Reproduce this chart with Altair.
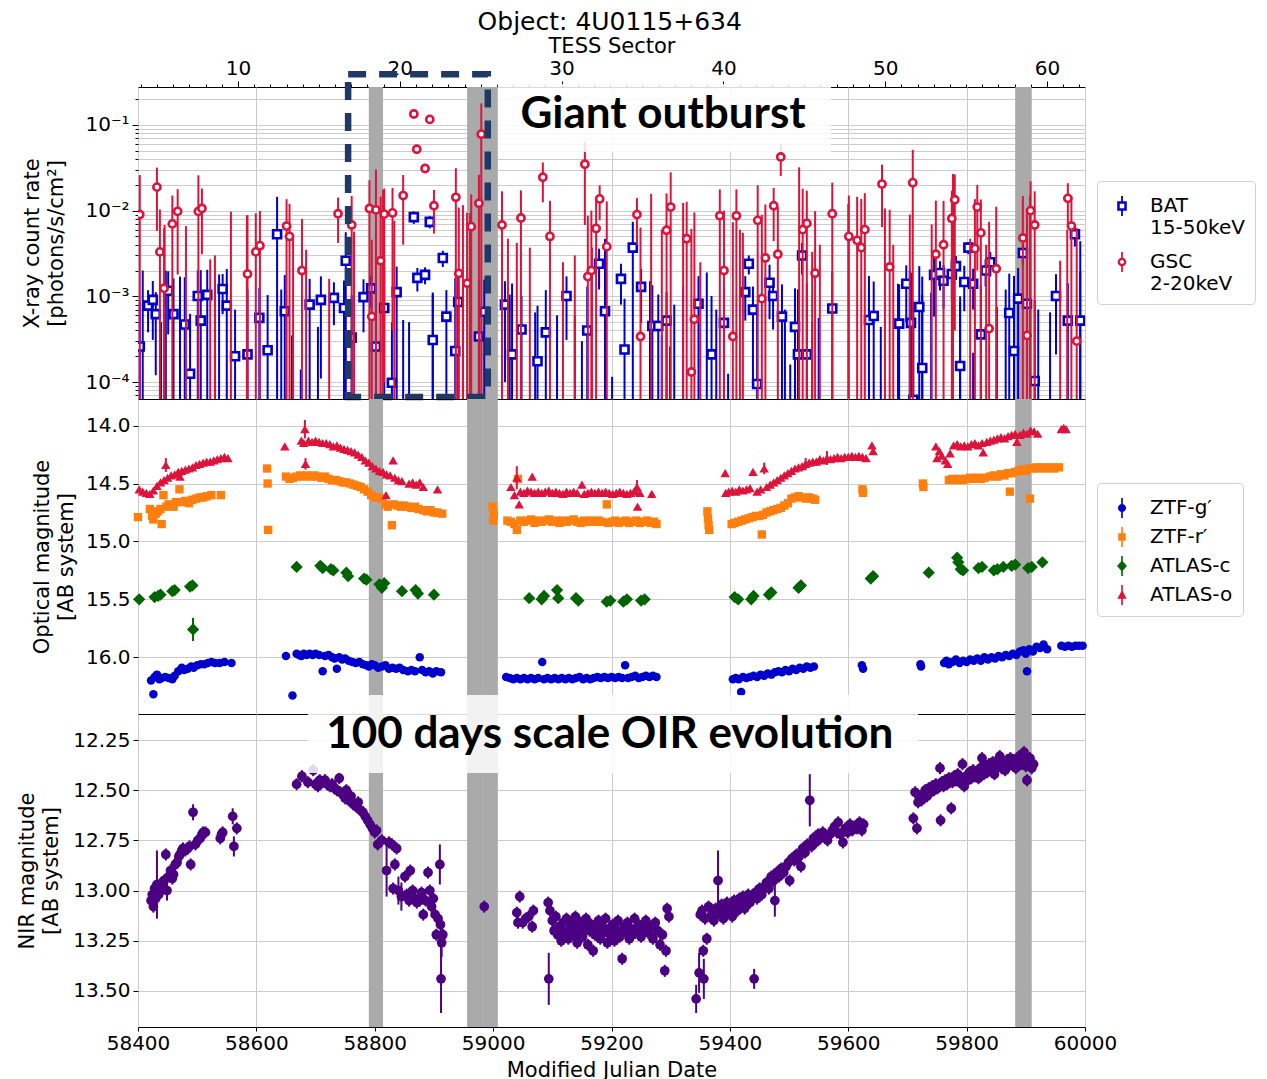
import altair as alt
import pandas as pd

# ---------------- data ----------------
X_DOMAIN = [58400, 60000]
mjd_ticks = [58400, 58600, 58800, 59000, 59200, 59400, 59600, 59800, 60000]

tess_sector = [18, 24, 25, 58]
tess_start = [58790, 58956, 58983, 59882]
tess_end = [58814, 58983, 59008, 59910]
sector_domain = [3.82, 62.35]
sector_ticks = list(range(4, 63))

# Swift/BAT 15-50 keV: (MJD, rate, 1-sigma error)
bat = [
    (58403, 0.00026, 0.0006), (58417, 0.00078, 0.0004), (58425, 0.00091, 0.0006), (58430, 0.00062, 0.0005),
    (58451, 0.00116, 0.0008), (58460, 0.00062, 0.0010), (58479, 0.00047, 0.0012), (58488, 0.000125, 0.0005),
    (58501, 0.00101, 0.0010), (58506, 0.00052, 0.0015), (58517, 0.00104, 0.0010), (58543, 0.00122, 0.0006),
    (58550, 0.00078, 0.0013), (58564, 0.00020, 0.0005), (58585, 0.00021, 0.0010), (58605, 0.00056, 0.0007),
    (58619, 0.000235, 0.0008), (58635, 0.0053, 0.0092), (58648, 0.00067, 0.0011), (58690, 0.00080, 0.0008),
    (58709, 0.00091, 0.0008), (58731, 0.00096, 0.0005), (58748, 0.00073, 0.0008), (58751, 0.0026, 0.0030),
    (58761, 0.00033, 0.0007), (58781, 0.00098, 0.0006), (58794, 0.00124, 0.0005), (58802, 0.00026, 0.0008),
    (58816, 0.00073, 0.0015), (58829, 0.000098, 0.0004), (58837, 0.00112, 0.0011), (58866, 0.0084, 0.0014),
    (58872, 0.00164, 0.0005), (58885, 0.00178, 0.0004), (58893, 0.0074, 0.0012), (58898, 0.00031, 0.0008),
    (58915, 0.0028, 0.0006), (58921, 0.00058, 0.0006), (58936, 0.00023, 0.0014), (58941, 0.00086, 0.0010),
    (58976, 0.00034, 0.0012), (58985, 0.00066, 0.0009), (59020, 0.00080, 0.0007), (59032, 0.00021, 0.0012),
    (59048, 0.00041, 0.0006), (59075, 0.000175, 0.0006), (59089, 0.00038, 0.0008), (59124, 0.00101, 0.0007),
    (59159, 0.00040, 0.0009), (59179, 0.0024, 0.0012), (59189, 0.00067, 0.0040), (59216, 0.00160, 0.0008),
    (59222, 0.00024, 0.0007), (59236, 0.0037, 0.0037), (59250, 0.00129, 0.0008), (59269, 0.00045, 0.0009),
    (59279, 0.00045, 0.0006), (59293, 0.00052, 0.0006), (59347, 0.00082, 0.0009), (59369, 0.00021, 0.0008),
    (59390, 0.00049, 0.0008), (59426, 0.00112, 0.0006), (59432, 0.0024, 0.0006), (59439, 0.00070, 0.0006),
    (59446, 0.000095, 0.0007), (59467, 0.00144, 0.0009), (59473, 0.00101, 0.0006), (59488, 0.00058, 0.0008),
    (59510, 0.00044, 0.0008), (59515, 0.00021, 0.0010), (59522, 0.0030, 0.0012), (59530, 0.00021, 0.0012),
    (59573, 0.00072, 0.0012), (59635, 0.00053, 0.0012), (59643, 0.00059, 0.0009), (59686, 0.00048, 0.0009),
    (59698, 0.00140, 0.0009), (59706, 0.00049, 0.0014), (59710, 0.000062, 0.0008), (59720, 0.00075, 0.0015),
    (59725, 0.000146, 0.0009), (59745, 0.00178, 0.0012), (59755, 0.00187, 0.0007), (59761, 0.00152, 0.0008),
    (59775, 0.00182, 0.0009), (59782, 0.00225, 0.0007), (59789, 0.000154, 0.0007), (59796, 0.00147, 0.0008),
    (59803, 0.0037, 0.0006), (59811, 0.00140, 0.0007), (59824, 0.00036, 0.0010), (59832, 0.0020, 0.0007),
    (59840, 0.0025, 0.0008), (59872, 0.00064, 0.0012), (59880, 0.00023, 0.0015), (59887, 0.00094, 0.0012),
    (59895, 0.0032, 0.0009), (59902, 0.00082, 0.0010), (59915, 0.000103, 0.0008), (59951, 0.00101, 0.0008),
    (59971, 0.00052, 0.0009), (59983, 0.0053, 0.0015), (59992, 0.00052, 0.0014),
]

# MAXI/GSC 2-20 keV: (MJD, rate, 1-sigma error)
gsc = [
    (58403, 0.0090, 0.017), (58432, 0.0188, 0.013), (58437, 0.0033, 0.007), (58444, 0.00124, 0.005),
    (58458, 0.0070, 0.008), (58467, 0.0098, 0.008), (58502, 0.0098, 0.016), (58508, 0.0106, 0.0075),
    (58585, 0.00182, 0.007), (58599, 0.0033, 0.006), (58606, 0.0039, 0.006), (58651, 0.0066, 0.007),
    (58656, 0.0050, 0.007), (58677, 0.0020, 0.006), (58738, 0.0092, 0.005), (58761, 0.0068, 0.008),
    (58791, 0.0106, 0.012), (58795, 0.00058, 0.004), (58802, 0.0102, 0.020), (58810, 0.0026, 0.012),
    (58816, 0.0091, 0.009), (58830, 0.0094, 0.009), (58848, 0.0150, 0.011), (58866, 0.134, 0.004),
    (58871, 0.052, 0.003), (58885, 0.031, 0.003), (58893, 0.116, 0.004), (58900, 0.0114, 0.006),
    (58937, 0.0143, 0.017), (58942, 0.00185, 0.009), (58956, 0.00142, 0.008), (58963, 0.0065, 0.009),
    (58976, 0.0122, 0.014), (58980, 0.078, 0.10), (59015, 0.0068, 0.010), (59047, 0.0082, 0.009),
    (59084, 0.0245, 0.012), (59096, 0.0050, 0.008), (59155, 0.0348, 0.028), (59160, 0.00170, 0.007),
    (59166, 0.0020, 0.008), (59174, 0.0062, 0.007), (59180, 0.0137, 0.006), (59192, 0.0038, 0.009),
    (59243, 0.0090, 0.005), (59249, 0.00034, 0.006), (59293, 0.0059, 0.010), (59300, 0.0110, 0.017),
    (59327, 0.0047, 0.008), (59335, 0.000131, 0.006), (59340, 0.00054, 0.009), (59383, 0.0087, 0.009),
    (59390, 0.0020, 0.008), (59405, 0.00034, 0.007), (59411, 0.0087, 0.009), (59447, 0.0077, 0.012),
    (59454, 0.00094, 0.008), (59460, 0.0028, 0.009), (59474, 0.0114, 0.007), (59481, 0.0031, 0.008),
    (59486, 0.0423, 0.017), (59523, 0.0060, 0.012), (59530, 0.0071, 0.010), (59544, 0.00186, 0.008),
    (59573, 0.0092, 0.012), (59601, 0.0050, 0.010), (59615, 0.0045, 0.010), (59622, 0.0037, 0.010),
    (59628, 0.0060, 0.010), (59657, 0.0204, 0.014), (59670, 0.0022, 0.008), (59709, 0.0212, 0.030),
    (59748, 0.0031, 0.010), (59761, 0.0040, 0.009), (59775, 0.0081, 0.009), (59780, 0.0134, 0.013),
    (59814, 0.0036, 0.010), (59818, 0.0110, 0.009), (59824, 0.0055, 0.008), (59838, 0.00042, 0.007),
    (59850, 0.0021, 0.009), (59895, 0.0048, 0.010), (59902, 0.00035, 0.009), (59908, 0.0100, 0.012),
    (59915, 0.0068, 0.010), (59971, 0.0139, 0.007), (59977, 0.0066, 0.008), (59986, 0.00030, 0.006),
]

# non-positive rates: only the upper end of the error bar is visible (MJD, rate + error)
bat_bars = [
    (58408, 0.0020), (58439, 0.0005), (58447, 0.0020), (58471, 0.0017), (58530, 0.0016), (58537, 0.0018),
    (58642, 0.0012), (58660, 0.00035), (58675, 0.00014), (58704, 0.00044), (58848, 0.00053), (58858, 0.0005),
    (58898, 0.00104), (58949, 0.0013), (59028, 0.00105), (59071, 0.00065), (59108, 0.0006), (59138, 0.0006),
    (59150, 0.0003), (59201, 0.000115), (59265, 0.0015), (59285, 0.00035), (59299, 0.00026), (59306, 0.0008),
    (59321, 0.0013), (59361, 0.0019), (59377, 0.0007), (59397, 0.000125), (59493, 0.0007), (59502, 0.00016),
    (59539, 0.0005), (59550, 0.00056), (59635, 0.0012), (59655, 0.00044), (59684, 0.0014), (59704, 0.0020),
    (59725, 0.0017), (59740, 0.0011), (59789, 0.0010), (59811, 0.00022), (59851, 0.00075), (59866, 0.0012),
    (59921, 0.0007), (59941, 0.00065), (59992, 0.0044),
]
gsc_bars = [
    (58445, 0.0068), (58481, 0.0066), (58522, 0.0027), (58530, 0.0030), (58557, 0.0097), (58584, 0.0088),
    (58662, 0.0047), (58684, 0.0035), (58723, 0.0016), (58765, 0.0057), (58814, 0.0175), (58833, 0.0076),
    (58949, 0.0116), (58961, 0.0094), (59025, 0.0047), (59040, 0.0042), (59062, 0.0037), (59118, 0.0025),
    (59138, 0.0030), (59167, 0.0037), (59267, 0.0157), (59285, 0.0060), (59321, 0.0123), (59350, 0.0025),
    (59417, 0.0060), (59422, 0.0055), (59517, 0.032), (59539, 0.0033), (59552, 0.0040), (59600, 0.012),
    (59662, 0.0106), (59676, 0.0040), (59704, 0.0090), (59741, 0.0069), (59777, 0.0268), (59806, 0.0047),
    (59833, 0.0040), (59907, 0.015), (59958, 0.0026), (59970, 0.0060),
]

# optical light curves (MJD, AB mag)
ztf_g = [
    (58422, 16.20), (58426, 16.32), (58428, 16.17), (58432, 16.15), (58436, 16.19), (58440, 16.18), (58446, 16.17),
    (58452, 16.18), (58458, 16.19), (58462, 16.16), (58468, 16.12), (58474, 16.09), (58478, 16.11), (58484, 16.10),
    (58490, 16.08), (58494, 16.09), (58500, 16.07), (58506, 16.06), (58512, 16.06), (58518, 16.05), (58524, 16.04),
    (58530, 16.05), (58538, 16.05), (58546, 16.04), (58558, 16.05),
    (58650, 15.99), (58661, 16.33), (58668, 15.97), (58672, 15.98), (58676, 15.99), (58680, 15.97), (58685, 15.98),
    (58690, 15.97), (58695, 15.98), (58700, 15.97), (58706, 15.98), (58712, 16.12), (58716, 15.99), (58722, 15.98),
    (58728, 16.00), (58732, 16.01), (58736, 16.10), (58740, 16.00), (58745, 16.02), (58750, 16.01), (58756, 16.03),
    (58762, 16.04), (58768, 16.05), (58774, 16.04), (58780, 16.06), (58786, 16.07), (58790, 16.08), (58795, 16.06),
    (58800, 16.07), (58806, 16.09), (58812, 16.08), (58818, 16.07), (58824, 16.10), (58830, 16.09), (58836, 16.10),
    (58842, 16.09), (58848, 16.11), (58856, 16.12), (58862, 16.11), (58868, 16.12), (58876, 16.00), (58880, 16.11),
    (58886, 16.13), (58892, 16.12), (58898, 16.14), (58904, 16.12), (58912, 16.13),
    (59022, 16.17), (59028, 16.18), (59034, 16.19), (59040, 16.18), (59046, 16.19), (59052, 16.18), (59058, 16.19),
    (59064, 16.18), (59070, 16.19), (59076, 16.18), (59083, 16.04), (59086, 16.19), (59092, 16.18), (59098, 16.19),
    (59104, 16.18), (59110, 16.19), (59116, 16.18), (59122, 16.19), (59128, 16.18), (59134, 16.19), (59140, 16.18),
    (59146, 16.17), (59152, 16.19), (59158, 16.18), (59164, 16.19), (59170, 16.18), (59176, 16.17), (59182, 16.18),
    (59188, 16.17), (59194, 16.18), (59200, 16.17), (59206, 16.18), (59212, 16.17), (59218, 16.18), (59223, 16.07),
    (59228, 16.18), (59234, 16.17), (59240, 16.16), (59246, 16.18), (59252, 16.17), (59258, 16.16), (59264, 16.17),
    (59270, 16.16), (59276, 16.17),
    (59405, 16.19), (59410, 16.18), (59415, 16.19), (59419, 16.30), (59422, 16.17), (59428, 16.18), (59434, 16.17),
    (59440, 16.16), (59446, 16.17), (59452, 16.15), (59458, 16.16), (59464, 16.14), (59470, 16.15), (59476, 16.13),
    (59482, 16.12), (59488, 16.13), (59494, 16.11), (59500, 16.12), (59506, 16.10), (59512, 16.11), (59518, 16.09),
    (59524, 16.10), (59530, 16.08), (59536, 16.09), (59542, 16.08),
    (59623, 16.07), (59625, 16.10), (59722, 16.06), (59723, 16.08),
    (59762, 16.05), (59766, 16.03), (59770, 16.06), (59776, 16.04), (59782, 16.02), (59788, 16.05), (59794, 16.03),
    (59800, 16.04), (59806, 16.02), (59812, 16.03), (59818, 16.01), (59824, 16.03), (59830, 16.00), (59836, 16.02),
    (59842, 16.00), (59848, 16.01), (59854, 15.99), (59860, 16.00), (59866, 15.98), (59872, 15.99), (59878, 15.97),
    (59884, 15.98), (59890, 15.95), (59896, 15.94), (59900, 15.97), (59902, 16.12), (59906, 15.93), (59912, 15.95),
    (59918, 15.91), (59924, 15.92), (59930, 15.89), (59936, 15.93), (59960, 15.90), (59966, 15.91), (59972, 15.90),
    (59978, 15.91), (59984, 15.90), (59990, 15.90), (59996, 15.90),
]
ztf_r = [
    (58400, 14.79), (58420, 14.72), (58424, 14.78), (58426, 14.81), (58430, 14.76), (58434, 14.74), (58438, 14.72),
    (58440, 14.85), (58443, 14.60), (58448, 14.70), (58452, 14.68), (58456, 14.69), (58460, 14.70), (58464, 14.66),
    (58470, 14.55), (58474, 14.66), (58480, 14.65), (58486, 14.67), (58492, 14.64), (58498, 14.63), (58504, 14.62),
    (58510, 14.62), (58516, 14.61), (58524, 14.60), (58540, 14.60),
    (58618, 14.37), (58619, 14.50), (58620, 14.90), (58650, 14.44), (58656, 14.46), (58662, 14.45), (58668, 14.44),
    (58674, 14.43), (58680, 14.44), (58686, 14.43), (58692, 14.44), (58698, 14.43), (58704, 14.44), (58710, 14.45),
    (58716, 14.44), (58722, 14.46), (58728, 14.47), (58734, 14.47), (58740, 14.48), (58746, 14.49), (58752, 14.49),
    (58758, 14.50), (58764, 14.51), (58770, 14.52), (58776, 14.53), (58782, 14.55), (58788, 14.57), (58794, 14.60),
    (58800, 14.62), (58806, 14.62), (58812, 14.63), (58818, 14.68), (58822, 14.70), (58829, 14.86), (58832, 14.68),
    (58838, 14.69), (58844, 14.70), (58850, 14.69), (58856, 14.70), (58862, 14.71), (58868, 14.70), (58874, 14.72),
    (58882, 14.73), (58888, 14.74), (58894, 14.73), (58900, 14.75), (58906, 14.75), (58914, 14.76),
    (58999, 14.70), (59000, 14.82), (59001, 14.77), (59024, 14.82), (59030, 14.83), (59036, 14.85), (59040, 14.90),
    (59042, 14.46), (59046, 14.82), (59052, 14.83), (59058, 14.82), (59064, 14.81), (59070, 14.84), (59076, 14.82),
    (59082, 14.83), (59088, 14.82), (59094, 14.81), (59100, 14.83), (59106, 14.82), (59112, 14.84), (59118, 14.82),
    (59124, 14.83), (59130, 14.82), (59136, 14.81), (59142, 14.83), (59148, 14.84), (59154, 14.82), (59160, 14.83),
    (59166, 14.82), (59172, 14.83), (59178, 14.82), (59184, 14.83), (59192, 14.68), (59194, 14.84), (59200, 14.83),
    (59206, 14.82), (59212, 14.84), (59218, 14.83), (59224, 14.82), (59230, 14.84), (59236, 14.83), (59242, 14.82),
    (59248, 14.84), (59254, 14.83), (59260, 14.82), (59266, 14.84), (59272, 14.83), (59276, 14.85),
    (59362, 14.74), (59363, 14.80), (59364, 14.86), (59365, 14.90),
    (59403, 14.85), (59408, 14.84), (59414, 14.83), (59420, 14.82), (59426, 14.81), (59432, 14.80), (59438, 14.79),
    (59444, 14.78), (59450, 14.78), (59454, 14.94), (59456, 14.77), (59462, 14.75), (59468, 14.74), (59474, 14.73),
    (59480, 14.72), (59486, 14.71), (59492, 14.69), (59498, 14.67), (59504, 14.63), (59510, 14.62), (59516, 14.61),
    (59522, 14.62), (59528, 14.63), (59534, 14.62), (59540, 14.63), (59544, 14.64),
    (59624, 14.55), (59625, 14.58), (59726, 14.50), (59727, 14.53),
    (59770, 14.47), (59776, 14.46), (59782, 14.47), (59788, 14.46), (59794, 14.47), (59800, 14.46), (59806, 14.45),
    (59812, 14.46), (59818, 14.45), (59824, 14.46), (59830, 14.45), (59840, 14.44), (59846, 14.43), (59852, 14.44),
    (59858, 14.42), (59864, 14.43), (59870, 14.41), (59873, 14.57), (59876, 14.41), (59882, 14.40), (59888, 14.39),
    (59894, 14.38), (59900, 14.39), (59906, 14.37), (59907, 14.63), (59912, 14.37), (59918, 14.36), (59924, 14.37),
    (59930, 14.36), (59936, 14.37), (59942, 14.36), (59948, 14.37), (59956, 14.36),
]
atlas_c = [
    (58402, 15.50), (58428, 15.48), (58434, 15.47), (58438, 15.46), (58458, 15.43), (58462, 15.42), (58488, 15.39),
    (58492, 15.38), (58493, 15.76), (58668, 15.22), (58708, 15.21), (58712, 15.23), (58726, 15.24), (58730, 15.25),
    (58752, 15.27), (58755, 15.30), (58782, 15.32), (58786, 15.33), (58808, 15.37), (58812, 15.40), (58816, 15.36),
    (58846, 15.43), (58869, 15.42), (58873, 15.45), (58900, 15.46), (59061, 15.49), (59082, 15.50), (59086, 15.47),
    (59108, 15.42), (59110, 15.49), (59140, 15.49), (59144, 15.51), (59192, 15.52), (59198, 15.51), (59220, 15.52),
    (59226, 15.50), (59250, 15.51), (59256, 15.50), (59408, 15.48), (59414, 15.50), (59436, 15.50), (59440, 15.47),
    (59466, 15.46), (59470, 15.44), (59516, 15.40), (59520, 15.38), (59638, 15.32), (59642, 15.30), (59736, 15.27),
    (59784, 15.14), (59786, 15.18), (59790, 15.24), (59794, 15.25), (59820, 15.23), (59826, 15.22), (59846, 15.25),
    (59852, 15.24), (59862, 15.22), (59876, 15.21), (59882, 15.20), (59904, 15.23), (59910, 15.22), (59928, 15.18),
]
atlas_o = [
    (58402, 14.55), (58408, 14.57), (58414, 14.58), (58420, 14.59), (58426, 14.56), (58432, 14.52), (58438, 14.49),
    (58444, 14.47), (58447, 14.34), (58450, 14.45), (58456, 14.43), (58462, 14.42), (58468, 14.40), (58471, 14.44),
    (58474, 14.39), (58480, 14.38), (58486, 14.37), (58492, 14.36), (58498, 14.34), (58504, 14.33), (58510, 14.32),
    (58516, 14.31), (58522, 14.31), (58528, 14.30), (58534, 14.29), (58540, 14.28), (58546, 14.27), (58552, 14.28),
    (58648, 14.18), (58676, 14.13), (58680, 14.15), (58682, 14.03), (58683, 14.33), (58688, 14.13), (58694, 14.14),
    (58700, 14.13), (58706, 14.14), (58712, 14.15), (58718, 14.15), (58724, 14.16), (58730, 14.18), (58736, 14.17),
    (58742, 14.19), (58748, 14.20), (58754, 14.21), (58760, 14.22), (58766, 14.23), (58772, 14.25), (58778, 14.27),
    (58784, 14.30), (58790, 14.32), (58796, 14.35), (58802, 14.37), (58808, 14.39), (58814, 14.40), (58819, 14.60),
    (58820, 14.42), (58826, 14.43), (58831, 14.30), (58834, 14.45), (58840, 14.47), (58846, 14.48), (58858, 14.50),
    (58864, 14.49), (58870, 14.51), (58876, 14.49), (58882, 14.53), (58906, 14.55),
    (59030, 14.53), (59036, 14.60), (59040, 14.45), (59044, 14.68), (59046, 14.57), (59052, 14.58), (59058, 14.56),
    (59064, 14.57), (59066, 14.44), (59070, 14.58), (59076, 14.57), (59082, 14.58), (59088, 14.57), (59094, 14.56),
    (59100, 14.58), (59106, 14.57), (59112, 14.58), (59118, 14.59), (59124, 14.57), (59130, 14.58), (59136, 14.57),
    (59142, 14.58), (59150, 14.51), (59154, 14.59), (59160, 14.58), (59166, 14.57), (59172, 14.58), (59178, 14.57),
    (59184, 14.58), (59190, 14.57), (59196, 14.58), (59202, 14.59), (59208, 14.58), (59214, 14.57), (59220, 14.58),
    (59226, 14.59), (59232, 14.58), (59238, 14.57), (59243, 14.53), (59244, 14.70), (59248, 14.58), (59268, 14.59),
    (59392, 14.41), (59393, 14.58), (59398, 14.57), (59404, 14.56), (59410, 14.57), (59416, 14.55), (59422, 14.56),
    (59428, 14.55), (59434, 14.54), (59439, 14.40), (59446, 14.57), (59452, 14.55), (59458, 14.37), (59462, 14.53),
    (59468, 14.51), (59474, 14.49), (59480, 14.47), (59486, 14.45), (59492, 14.43), (59498, 14.41), (59504, 14.39),
    (59510, 14.37), (59516, 14.36), (59522, 14.35), (59528, 14.33), (59534, 14.32), (59540, 14.31), (59546, 14.31),
    (59552, 14.29), (59558, 14.30), (59564, 14.28), (59570, 14.29), (59576, 14.28), (59582, 14.27), (59588, 14.28),
    (59594, 14.27), (59600, 14.27), (59606, 14.26), (59612, 14.27), (59618, 14.26), (59624, 14.27), (59630, 14.28),
    (59640, 14.17), (59642, 14.22),
    (59748, 14.18), (59750, 14.28), (59754, 14.22), (59758, 14.26), (59764, 14.30), (59768, 14.33), (59772, 14.24),
    (59778, 14.17), (59784, 14.16), (59790, 14.18), (59796, 14.17), (59802, 14.18), (59808, 14.16), (59814, 14.15),
    (59820, 14.17), (59826, 14.15), (59828, 14.23), (59834, 14.14), (59840, 14.13), (59846, 14.12), (59852, 14.11),
    (59858, 14.10), (59864, 14.11), (59870, 14.09), (59876, 14.08), (59882, 14.07), (59885, 14.14), (59890, 14.08),
    (59896, 14.06), (59902, 14.07), (59908, 14.04), (59914, 14.05), (59920, 14.07), (59960, 14.03), (59964, 14.02),
    (59968, 14.03),
]
# visible optical error bars: (series, MJD, mag, error)
optical_err = [
    ("ATLAS-o", 58447, 14.34, 0.06), ("ATLAS-o", 58682, 14.03, 0.08), ("ATLAS-o", 58683, 14.33, 0.05),
    ("ATLAS-o", 59040, 14.45, 0.10), ("ATLAS-o", 59243, 14.53, 0.06), ("ATLAS-o", 59458, 14.37, 0.05),
    ("ATLAS-o", 59528, 14.33, 0.05), ("ATLAS-o", 59564, 14.28, 0.06), ("ATLAS-c", 58493, 15.76, 0.10),
]

# NIR light curve (MJD, AB mag)
nir = [
    (58422, 13.05), (58424, 13.02), (58426, 13.08), (58428, 12.99), (58430, 13.04), (58432, 12.97), (58435, 13.02),
    (58438, 13.00), (58441, 12.96), (58444, 12.95), (58447, 12.82), (58449, 13.00), (58452, 12.93), (58455, 12.90),
    (58458, 12.94), (58460, 12.92), (58463, 12.87), (58466, 12.86), (58469, 12.83), (58471, 12.82), (58474, 12.80),
    (58476, 12.79), (58480, 12.80), (58484, 12.79), (58487, 12.78), (58489, 12.87), (58493, 12.61), (58497, 12.77),
    (58501, 12.75), (58505, 12.74), (58508, 12.72), (58510, 12.71), (58514, 12.71), (58539, 12.74), (58541, 12.72),
    (58543, 12.71), (58560, 12.63), (58562, 12.78), (58567, 12.69),
    (58668, 12.47), (58677, 12.43), (58687, 12.46), (58696, 12.40), (58700, 12.47), (58704, 12.48), (58707, 12.45),
    (58712, 12.46), (58716, 12.45), (58720, 12.47), (58724, 12.48), (58728, 12.47), (58732, 12.49), (58736, 12.50),
    (58740, 12.44), (58742, 12.51), (58746, 12.52), (58750, 12.54), (58752, 12.50), (58756, 12.55), (58760, 12.53),
    (58764, 12.57), (58768, 12.58), (58772, 12.56), (58776, 12.60), (58780, 12.61), (58784, 12.63), (58788, 12.65),
    (58792, 12.67), (58796, 12.69), (58800, 12.71), (58803, 12.70), (58805, 12.77), (58812, 12.75), (58820, 12.90),
    (58824, 12.76), (58829, 12.77), (58831, 12.99), (58834, 12.87), (58837, 12.79), (58840, 13.00), (58845, 13.03),
    (58851, 12.93), (58854, 13.02), (58858, 13.05), (58860, 12.90), (58864, 13.00), (58868, 13.04), (58871, 13.06),
    (58876, 13.05), (58879, 13.01), (58882, 13.12), (58886, 13.05), (58890, 12.91), (58893, 13.00), (58896, 13.08),
    (58899, 13.04), (58902, 13.12), (58904, 13.22), (58907, 13.14), (58910, 12.87), (58911, 13.17), (58912, 13.44),
    (58913, 13.26), (58915, 13.22),
    (58985, 13.08),
    (59040, 13.11), (59042, 13.16), (59045, 13.03), (59050, 13.16), (59055, 13.14), (59060, 13.13), (59066, 13.18),
    (59068, 13.10), (59093, 13.06), (59094, 13.44), (59096, 13.10), (59100, 13.15), (59103, 13.20), (59106, 13.13),
    (59109, 13.22), (59112, 13.18), (59115, 13.25), (59118, 13.16), (59121, 13.21), (59124, 13.14), (59127, 13.24),
    (59130, 13.19), (59133, 13.17), (59136, 13.22), (59139, 13.13), (59142, 13.26), (59145, 13.19), (59148, 13.16),
    (59151, 13.23), (59154, 13.18), (59157, 13.14), (59160, 13.27), (59163, 13.20), (59166, 13.17), (59169, 13.30),
    (59172, 13.22), (59175, 13.19), (59178, 13.15), (59181, 13.24), (59184, 13.18), (59187, 13.21), (59190, 13.14),
    (59193, 13.26), (59196, 13.19), (59199, 13.22), (59202, 13.17), (59205, 13.25), (59208, 13.20), (59211, 13.15),
    (59214, 13.23), (59218, 13.34), (59221, 13.18), (59224, 13.21), (59227, 13.16), (59230, 13.24), (59233, 13.19),
    (59236, 13.22), (59239, 13.14), (59242, 13.20), (59246, 13.17), (59250, 13.23), (59254, 13.19), (59258, 13.15),
    (59262, 13.21), (59266, 13.18), (59270, 13.24), (59274, 13.16), (59278, 13.20), (59282, 13.27), (59286, 13.22),
    (59290, 13.40), (59292, 13.30), (59294, 13.09), (59297, 13.13),
    (59343, 13.54), (59348, 13.41), (59350, 13.12), (59353, 13.10), (59355, 13.30), (59356, 13.44), (59358, 13.14),
    (59361, 13.24), (59364, 13.08), (59367, 13.13), (59370, 13.10), (59373, 13.15), (59376, 13.09), (59380, 12.95),
    (59383, 13.12), (59386, 13.07), (59389, 13.14), (59392, 13.09), (59395, 13.06), (59398, 13.11), (59401, 13.07),
    (59404, 13.13), (59407, 13.05), (59410, 13.08), (59413, 13.10), (59416, 13.04), (59419, 13.07), (59422, 13.03),
    (59425, 13.09), (59428, 13.05), (59431, 13.02), (59434, 13.06), (59437, 13.04), (59441, 13.44), (59443, 13.01),
    (59446, 13.04), (59450, 12.99), (59454, 13.02), (59458, 12.98), (59462, 12.96), (59466, 12.99), (59470, 12.93),
    (59474, 12.95), (59476, 13.05), (59479, 12.91), (59483, 12.93), (59487, 12.89), (59491, 12.91), (59495, 12.88),
    (59499, 12.86), (59501, 12.95), (59505, 12.84), (59509, 12.85), (59513, 12.82), (59517, 12.83), (59520, 12.88),
    (59523, 12.79), (59527, 12.81), (59531, 12.77), (59535, 12.55), (59538, 12.78), (59541, 12.74), (59545, 12.76),
    (59549, 12.72), (59553, 12.74), (59557, 12.71), (59561, 12.73), (59565, 12.75), (59569, 12.72), (59573, 12.70),
    (59577, 12.68), (59581, 12.71), (59583, 12.66), (59587, 12.72), (59591, 12.76), (59595, 12.69), (59599, 12.71),
    (59603, 12.67), (59607, 12.70), (59611, 12.68), (59615, 12.69), (59619, 12.66), (59623, 12.70), (59626, 12.67),
    (59710, 12.64), (59713, 12.51), (59716, 12.69), (59718, 12.56), (59721, 12.53), (59724, 12.55), (59727, 12.52),
    (59730, 12.50), (59733, 12.53), (59736, 12.49), (59739, 12.51), (59742, 12.48), (59745, 12.50), (59748, 12.47),
    (59751, 12.49), (59755, 12.39), (59756, 12.65), (59758, 12.46), (59761, 12.48), (59764, 12.45), (59767, 12.47),
    (59770, 12.44), (59774, 12.59), (59776, 12.46), (59779, 12.43), (59782, 12.45), (59785, 12.42), (59788, 12.46),
    (59791, 12.44), (59793, 12.37), (59796, 12.48), (59799, 12.43), (59802, 12.45), (59805, 12.41), (59808, 12.44),
    (59811, 12.40), (59814, 12.43), (59817, 12.41), (59820, 12.44), (59823, 12.39), (59826, 12.34), (59829, 12.42),
    (59832, 12.38), (59835, 12.41), (59838, 12.37), (59841, 12.40), (59844, 12.36), (59847, 12.42), (59850, 12.38),
    (59853, 12.35), (59856, 12.33), (59859, 12.39), (59862, 12.36), (59865, 12.40), (59868, 12.35), (59871, 12.38),
    (59874, 12.34), (59877, 12.37), (59880, 12.35), (59883, 12.39), (59886, 12.36), (59889, 12.33), (59892, 12.37),
    (59895, 12.35), (59897, 12.31), (59900, 12.38), (59902, 12.45), (59904, 12.36), (59907, 12.34), (59910, 12.39),
    (59913, 12.37),
]
nir_err_default = 0.03
nir_err_large = [
    (58432, 0.17), (58449, 0.05), (58493, 0.04), (58560, 0.04), (58562, 0.05), (58820, 0.13), (58840, 0.07),
    (58845, 0.07), (58910, 0.10), (58912, 0.17), (58913, 0.07), (59094, 0.13), (59343, 0.07), (59348, 0.10),
    (59356, 0.10), (59380, 0.15), (59441, 0.05), (59476, 0.08), (59535, 0.13),
]

# annotations (data coordinates)
outburst_box = [(58755, 58991, 6.7e-5, 0.39)]
giant_label = [(59287, 0.13, "Giant outburst")]
giant_bg = [(59008, 59571, 0.0484, 0.30)]
oir_label = [(59197, 12.225, "100 days scale OIR evolution")]
oir_bg = [(58687, 59718, 12.025, 12.414)]

# ---------------- style ----------------
BLUE, RED, ORANGE, GREEN, INDIGO, NAVY = "#0000cd", "#dc143c", "#ff7f0e", "#006400", "#4b0082", "#203864"
W = 947
H1, H2, H3 = 312, 315, 313
Y_TOP = [6.34e-5, 0.277]
Y_MID = [13.77, 16.49]
Y_BOT = [12.12, 13.68]
FONT = "DejaVu Sans"

xscale = alt.Scale(domain=X_DOMAIN, nice=False, zero=False)
hidden_x_axis = alt.Axis(values=mjd_ticks, labels=False, ticks=False, domain=False, title=None, grid=True,
                         minExtent=0, maxExtent=0, labelPadding=0)
bottom_x_axis = alt.Axis(values=mjd_ticks, format="d", grid=True, title="Modified Julian Date",
                         labelFlush=False, labelOverlap=False, tickSize=4, labelPadding=2, titlePadding=6)


def X(field, axis):
    return alt.X(f"{field}:Q", scale=xscale, axis=axis)


# log axis for the X-ray panel
log_vals = [float(f"{k}e{p}") for p in range(-5, 0) for k in range(1, 10)]
log_vals = [v for v in log_vals if Y_TOP[0] <= v <= Y_TOP[1]]
sup = {-1: "10⁻¹", -2: "10⁻²", -3: "10⁻³", -4: "10⁻⁴"}
log_label_expr = " : ".join(
    f"abs(datum.value - {10.0 ** p!r}) < {10.0 ** p * 1e-6!r} ? '{s}'" for p, s in sup.items()
) + " : ''"
major_test = "abs(log(datum.value)/LN10 - round(log(datum.value)/LN10)) < 0.001"
yscale_top = alt.Scale(type="log", domain=Y_TOP, nice=False)
y_top_axis = alt.Axis(values=log_vals, labelExpr=log_label_expr, grid=True,
                      tickSize={"condition": {"test": major_test, "value": 6}, "value": 3},
                      title=["X-ray count rate", "[photons/s/cm²]"], minExtent=66, maxExtent=66,
                      titlePadding=6, labelOverlap=False, labelPadding=3)
yscale_mid = alt.Scale(domain=Y_MID, reverse=True, nice=False, zero=False)
y_mid_axis = alt.Axis(values=[14.0, 14.5, 15.0, 15.5, 16.0], format=".1f", grid=True,
                      title=["Optical magnitude", "[AB system]"], minExtent=56, maxExtent=56,
                      titlePadding=6, labelOverlap=False, labelPadding=3)
yscale_bot = alt.Scale(domain=Y_BOT, reverse=True, nice=False, zero=False)
y_bot_axis = alt.Axis(values=[12.25, 12.5, 12.75, 13.0, 13.25, 13.5], format=".2f", grid=True,
                      title=["NIR magnitude", "[AB system]"], minExtent=71, maxExtent=71,
                      titlePadding=6, labelOverlap=False, labelPadding=3)

# legend symbols (marker + error bar), drawn inside a 30 px symbol box ([-1, 1] = 30 px)
BAT_SYM = ("M-0.32,-0.32H0.32V0.32H-0.32Z M-0.15,-0.15V0.15H0.15V-0.15Z "
           "M-0.06,-0.67H0.06V-0.32H-0.06Z M-0.06,0.32H0.06V0.67H-0.06Z")
GSC_SYM = ("M-0.29,0A0.29,0.29 0 1,1 0.29,0A0.29,0.29 0 1,1 -0.29,0Z "
           "M-0.13,0A0.13,0.13 0 1,0 0.13,0A0.13,0.13 0 1,0 -0.13,0Z "
           "M-0.06,-0.67H0.06V-0.28H-0.06Z M-0.06,0.28H0.06V0.67H-0.06Z")
BAR = " M-0.055,-0.67H0.055V0.67H-0.055Z"
G_SYM = "M-0.27,0A0.27,0.27 0 1,1 0.27,0A0.27,0.27 0 1,1 -0.27,0Z" + BAR
R_SYM = "M-0.25,-0.25H0.25V0.25H-0.25Z" + BAR
C_SYM = "M0,-0.37L0.33,0L0,0.37L-0.33,0Z" + BAR
O_SYM = "M0,-0.33L0.31,0.25L-0.31,0.25Z" + BAR


def legend_layer(names, colors, paths, lx, ly, row_pad, label_expr=None):
    opts = dict(title=None, orient="none", legendX=lx, legendY=ly, direction="vertical",
                symbolSize=900, symbolStrokeWidth=0, symbolOpacity=1,
                labelFontSize=20, labelFont=FONT, labelColor="black", labelLimit=400,
                padding=10, rowPadding=row_pad, labelOffset=13,
                fillColor="white", strokeColor="#d0d0d0", cornerRadius=4)
    if label_expr:
        opts["labelExpr"] = label_expr
    leg = alt.Legend(**opts)
    df = pd.DataFrame({"series": names})
    return alt.Chart(df).mark_point(filled=True, opacity=1).encode(
        color=alt.Color("series:N", scale=alt.Scale(domain=names, range=colors), legend=leg, sort=names),
        shape=alt.Shape("series:N", scale=alt.Scale(domain=names, range=paths), legend=leg, sort=names),
    ).transform_filter("false")


tess_df = pd.DataFrame({"sector": tess_sector, "start": tess_start, "end": tess_end})


def bands(axis):
    return alt.Chart(tess_df).mark_rect(color="#aaaaaa", opacity=1).encode(
        x=X("start", axis), x2="end:Q")


# ---------------- X-ray panel ----------------
bat_df = pd.DataFrame(bat, columns=["mjd", "rate", "err"])
gsc_df = pd.DataFrame(gsc, columns=["mjd", "rate", "err"])
for d in (bat_df, gsc_df):
    d["hi"] = (d["rate"] + d["err"]).clip(upper=Y_TOP[1])
    d["lo"] = (d["rate"] - d["err"]).clip(lower=Y_TOP[0])
batbar_df = pd.DataFrame(bat_bars, columns=["mjd", "hi"])
gscbar_df = pd.DataFrame(gsc_bars, columns=["mjd", "hi"])
for d in (batbar_df, gscbar_df):
    d["lo"] = Y_TOP[0]


def Yt(field):
    return alt.Y(f"{field}:Q", scale=yscale_top, axis=y_top_axis)


def xray_bars(df, color):
    return alt.Chart(df).mark_rule(color=color, strokeWidth=2, clip=True).encode(
        x=X("mjd", hidden_x_axis), y=Yt("lo"), y2="hi:Q")


bat_pts = alt.Chart(bat_df).mark_point(shape="square", size=64, filled=True, fill="white", stroke=BLUE,
                                       strokeWidth=2.6, opacity=1, clip=True).encode(
    x=X("mjd", hidden_x_axis), y=Yt("rate"))
gsc_pts = alt.Chart(gsc_df).mark_point(shape="circle", size=52, filled=True, fill="white", stroke=RED,
                                       strokeWidth=2.6, opacity=1, clip=True).encode(
    x=X("mjd", hidden_x_axis), y=Yt("rate"))

gbg_df = pd.DataFrame(giant_bg, columns=["x", "x2", "y", "y2"])
giant_bg_layer = alt.Chart(gbg_df).mark_rect(color="white", opacity=0.85).encode(
    x=X("x", hidden_x_axis), x2="x2:Q", y=Yt("y"), y2="y2:Q")
glab_df = pd.DataFrame(giant_label, columns=["mjd", "rate", "label"])
giant_text = alt.Chart(glab_df).mark_text(font="Lato", fontSize=44, fontWeight="bold", color="black",
                                          align="center", baseline="middle").encode(
    x=X("mjd", hidden_x_axis), y=Yt("rate"), text="label:N")
box_df = pd.DataFrame(outburst_box, columns=["x", "x2", "y", "y2"])
dashed_box = alt.Chart(box_df).mark_rect(fill="white", fillOpacity=0, stroke=NAVY, strokeWidth=6.5,
                                         strokeDash=[18, 13]).encode(
    x=X("x", hidden_x_axis), x2="x2:Q", y=Yt("y"), y2="y2:Q")

xray_legend = legend_layer(["BAT 15-50keV", "GSC 2-20keV"], [BLUE, RED], [BAT_SYM, GSC_SYM],
                           959, 94, 9, label_expr="split(datum.label, ' ')")

inner_top = alt.layer(
    bands(hidden_x_axis),
    xray_bars(batbar_df, BLUE), xray_bars(bat_df, BLUE), bat_pts,
    xray_bars(gscbar_df, RED), xray_bars(gsc_df, RED), gsc_pts,
    giant_bg_layer, giant_text, dashed_box, xray_legend,
)
sector_df = pd.DataFrame({"sector": tess_sector})
sector_layer = alt.Chart(sector_df).mark_point(opacity=0).encode(
    x=alt.X("sector:Q", scale=alt.Scale(domain=sector_domain, nice=False, zero=False),
            axis=alt.Axis(orient="top", values=sector_ticks, title="TESS Sector", grid=False, domain=False,
                          labelExpr="datum.value % 10 === 0 ? datum.label : ''",
                          tickSize={"condition": {"test": "datum.value % 10 === 0", "value": 6}, "value": 3},
                          labelFlush=False, labelOverlap=False, labelPadding=3, titlePadding=2)))
top = alt.layer(inner_top, sector_layer).resolve_scale(x="independent").properties(width=W, height=H1)

# ---------------- optical panel ----------------


def Ym(field):
    return alt.Y(f"{field}:Q", scale=yscale_mid, axis=y_mid_axis)


def opt_points(data, shape, size, color):
    df = pd.DataFrame(data, columns=["mjd", "mag"])
    return alt.Chart(df).mark_point(shape=shape, size=size, filled=True, color=color, opacity=1,
                                    strokeWidth=0).encode(x=X("mjd", hidden_x_axis), y=Ym("mag"))


opt_names = ["ZTF-g′", "ZTF-r′", "ATLAS-c", "ATLAS-o"]
opt_colors = [BLUE, ORANGE, GREEN, RED]
oerr_df = pd.DataFrame(optical_err, columns=["series", "mjd", "mag", "err"])
oerr_df["lo"] = oerr_df["mag"] - oerr_df["err"]
oerr_df["hi"] = oerr_df["mag"] + oerr_df["err"]


def opt_bars(name, color):
    df = oerr_df[oerr_df["series"] == name]
    return alt.Chart(df).mark_rule(strokeWidth=2, color=color).encode(
        x=X("mjd", hidden_x_axis), y=Ym("lo"), y2="hi:Q")


opt_legend = legend_layer(opt_names, opt_colors, [G_SYM, R_SYM, C_SYM, O_SYM], 959, 84, 3)

mid = alt.layer(
    bands(hidden_x_axis),
    opt_points(ztf_g, "circle", 72, BLUE),
    opt_points(ztf_r, "square", 70, ORANGE),
    opt_bars("ATLAS-c", GREEN),
    opt_points(atlas_c, "diamond", 150, GREEN),
    opt_bars("ATLAS-o", RED),
    opt_points(atlas_o, "triangle-up", 90, RED),
    opt_legend,
).properties(width=W, height=H2)

# ---------------- NIR panel ----------------


def Yb(field):
    return alt.Y(f"{field}:Q", scale=yscale_bot, axis=y_bot_axis)


nir_df = pd.DataFrame(nir, columns=["mjd", "mag"])
big = dict(nir_err_large)
nir_df["err"] = [big.get(m, nir_err_default) for m in nir_df["mjd"]]
nir_df["lo"] = nir_df["mag"] - nir_df["err"]
nir_df["hi"] = nir_df["mag"] + nir_df["err"]
nir_bars = alt.Chart(nir_df).mark_rule(color=INDIGO, strokeWidth=2).encode(
    x=X("mjd", bottom_x_axis), y=Yb("lo"), y2="hi:Q")
nir_pts = alt.Chart(nir_df).mark_point(shape="circle", size=95, filled=True, color=INDIGO, opacity=1,
                                       strokeWidth=0).encode(x=X("mjd", bottom_x_axis), y=Yb("mag"))
obg_df = pd.DataFrame(oir_bg, columns=["x", "x2", "y", "y2"])
oir_bg_layer = alt.Chart(obg_df).mark_rect(color="white", opacity=0.85).encode(
    x=X("x", bottom_x_axis), x2="x2:Q", y=Yb("y"), y2="y2:Q")
olab_df = pd.DataFrame(oir_label, columns=["mjd", "mag", "label"])
oir_text = alt.Chart(olab_df).mark_text(font="Lato", fontSize=44, fontWeight="bold", color="black",
                                        align="center", baseline="middle").encode(
    x=X("mjd", bottom_x_axis), y=Yb("mag"), text="label:N")

bot = alt.layer(bands(bottom_x_axis), nir_bars, nir_pts, oir_bg_layer, oir_text).properties(width=W, height=H3)

# ---------------- assemble ----------------
chart = alt.vconcat(top, mid, bot, spacing=0, bounds="flush").resolve_scale(
    x="independent", y="independent", color="independent", shape="independent"
).properties(
    title=alt.Title("Object: 4U0115+634", font=FONT, fontSize=25, fontWeight="normal", color="black",
                    anchor="middle", offset=0, dx=-26),
    padding={"left": 7, "top": 1, "right": 0, "bottom": 0},
).configure_view(stroke="black", strokeWidth=1).configure_axis(
    labelFont=FONT, labelFontSize=20, titleFont=FONT, titleFontSize=21, titleFontWeight="normal",
    labelColor="black", titleColor="black", tickColor="black", domain=False,
    gridColor="#cccccc", gridWidth=1, tickWidth=1, titleLineHeight=24,
)

chart.save("out.html", embed_options={"renderer": "svg", "actions": False})
